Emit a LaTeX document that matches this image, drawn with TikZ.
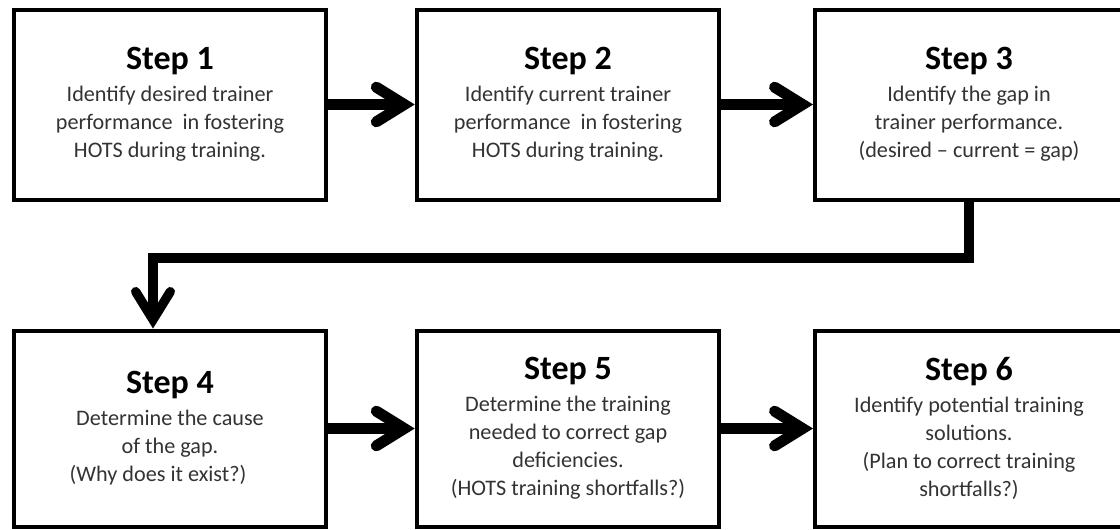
\documentclass[tikz,border=0pt]{standalone}
\usepackage{fontspec}
\setmainfont{Carlito}
\usetikzlibrary{arrows.meta}
\definecolor{bodytext}{HTML}{333333}
\newcommand\steptitle[1]{{\fontsize{25.5}{30}\selectfont\bfseries\color{black}#1}}
\begin{document}
\begin{tikzpicture}[x=0.75pt,y=-0.75pt,
  stepbox/.style={draw=black, line width=3pt, fill=white, align=center,
    inner sep=0pt, text=bodytext, font=\fontsize{16.65}{21}\selectfont},
  toprow/.style={minimum height=142.5pt},
  lowrow/.style={minimum height=147pt},
  wide/.style={minimum width=233.6pt},
  mid/.style={minimum width=226.9pt},
  last/.style={minimum width=231pt},
  barb/.tip={Straight Barb[length=21pt,width=26pt,line cap=round,line join=miter]},
  flow/.style={line width=8.25pt, -barb},
  link/.style={line width=7pt, line join=miter, -barb}
]
\useasboundingbox[fill=white] (0,0) rectangle (1120,529);

% upper row
\node[stepbox,toprow,wide] (s1) at (170,104.5)
  {\steptitle{Step 1}\\[3pt]Identify desired trainer\\performance~ in fostering\\HOTS during training.};
\node[stepbox,toprow,mid] (s2) at (568,104.5)
  {\steptitle{Step 2}\\[3pt]Identify current trainer\\performance~ in fostering\\HOTS during training.};
\node[stepbox,toprow,last] (s3) at (969,104.5)
  {\steptitle{Step 3}\\[3pt]Identify the gap in\\trainer performance.\\(desired -- current = gap)};

% lower row
\node[stepbox,lowrow,wide] (s4) at (170,428.5)
  {\steptitle{Step 4}\\[3pt]Determine the cause\\of the gap.\\(Why does it exist?)\hspace*{18pt}};
\node[stepbox,lowrow,mid] (s5) at (568,428.5)
  {\steptitle{Step 5}\\[3pt]Determine the training\\needed to correct gap\\deficiencies.\\(HOTS training shortfalls?)};
\node[stepbox,lowrow,last] (s6) at (969,428.5)
  {\steptitle{Step 6}\\[3pt]Identify potential training\\solutions.\\(Plan to correct training\\shortfalls?)};

% connectors
\draw[flow] (s1.east) -- (s2.west);
\draw[flow] (s2.east) -- (s3.west);
\coordinate (bend) at (153,258);
\draw[link] (s3.south) |- (bend) -- (bend |- s4.north);
\draw[flow] (s4.east) -- (s5.west);
\draw[flow] (s5.east) -- (s6.west);
\end{tikzpicture}
\end{document}
